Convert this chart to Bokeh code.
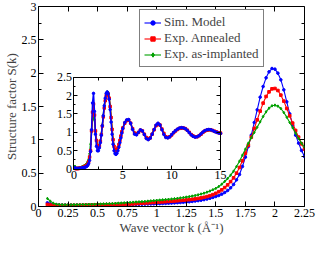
import numpy as np
from bokeh.plotting import figure
from bokeh.models import Range1d, LinearAxis, FixedTicker, Legend, LegendItem
from bokeh.embed import file_html
from bokeh.resources import INLINE

# ---------------- data ----------------
k_main = [round(0.075 + 0.025 * i, 3) for i in range(88)]

s_sim = [0.055, 0.04, 0.03, 0.025, 0.022, 0.02,
         0.02, 0.019, 0.019, 0.019, 0.02, 0.02, 0.02, 0.021, 0.021, 0.022, 0.022, 0.023,
         0.023, 0.024, 0.024, 0.025, 0.026, 0.026, 0.027, 0.028, 0.029, 0.03,
         0.031, 0.032, 0.033, 0.034, 0.035, 0.036, 0.038, 0.039, 0.04, 0.042,
         0.043, 0.045, 0.047, 0.049, 0.051, 0.054, 0.057, 0.06, 0.063, 0.067,
         0.071, 0.076, 0.082, 0.088, 0.095, 0.103, 0.112, 0.123, 0.136, 0.15,
         0.165, 0.185, 0.21, 0.24, 0.28, 0.33, 0.4, 0.48, 0.6, 0.74,
         0.9, 1.07, 1.26, 1.45, 1.64, 1.8, 1.93, 2.02, 2.07, 2.06,
         2.0, 1.9, 1.75, 1.57, 1.39, 1.22, 1.07, 0.95, 0.84, 0.75]

s_ann = [0.03, 0.022, 0.018, 0.016, 0.015, 0.015,
         0.015, 0.015, 0.016, 0.016, 0.017, 0.018, 0.019, 0.02, 0.021, 0.022, 0.023, 0.024,
         0.025, 0.026, 0.027, 0.028, 0.029, 0.031, 0.032, 0.033, 0.035, 0.036,
         0.038, 0.04, 0.043, 0.046, 0.049, 0.052, 0.055, 0.058, 0.061, 0.064,
         0.067, 0.07, 0.073, 0.076, 0.079, 0.082, 0.086, 0.09, 0.094, 0.098,
         0.103, 0.108, 0.114, 0.121, 0.129, 0.138, 0.149, 0.162, 0.178, 0.198,
         0.222, 0.25, 0.284, 0.325, 0.373, 0.43, 0.5, 0.585, 0.685, 0.8,
         0.92, 1.04, 1.17, 1.3, 1.43, 1.55, 1.65, 1.72, 1.765, 1.77,
         1.74, 1.67, 1.58, 1.47, 1.36, 1.25, 1.14, 1.04, 0.94, 0.86]

s_imp = [0.12, 0.08, 0.05, 0.035, 0.03, 0.028,
         0.027, 0.027, 0.027, 0.028, 0.028, 0.029, 0.03, 0.031, 0.032, 0.033, 0.034, 0.036,
         0.037, 0.039, 0.041, 0.043, 0.045, 0.047, 0.05, 0.052, 0.055, 0.058,
         0.061, 0.064, 0.067, 0.07, 0.073, 0.076, 0.08, 0.084, 0.088, 0.092,
         0.096, 0.1, 0.104, 0.108, 0.112, 0.117, 0.122, 0.128, 0.134, 0.141,
         0.148, 0.156, 0.165, 0.175, 0.187, 0.2, 0.215, 0.232, 0.251, 0.272,
         0.3, 0.335, 0.375, 0.42, 0.47, 0.53, 0.6, 0.68, 0.77, 0.86,
         0.95, 1.03, 1.11, 1.19, 1.27, 1.35, 1.42, 1.475, 1.51, 1.52,
         1.505, 1.47, 1.41, 1.34, 1.26, 1.18, 1.1, 1.02, 0.95, 0.89]

k_inset = [round(0.1 * i, 1) for i in range(1, 51)] + [round(5 + 0.2 * i, 1) for i in range(1, 51)]

si_sim = [0.04, 0.02, 0.02, 0.02, 0.02, 0.025, 0.028, 0.032, 0.036, 0.042,
          0.05, 0.06, 0.075, 0.1, 0.15, 0.24, 0.48, 1.07, 1.8, 2.06,
          1.57, 0.95, 0.62, 0.5, 0.5, 0.58, 0.72, 0.92, 1.18, 1.45,
          1.72, 1.93, 2.06, 2.1, 2.05, 1.9, 1.62, 1.28, 0.95, 0.68,
          0.5, 0.42, 0.4, 0.43, 0.5, 0.6, 0.72, 0.85, 0.98, 1.1,
          1.27, 1.34, 1.35, 1.25, 1.08, 0.95, 0.93, 1.0, 1.07, 1.04,
          0.94, 0.83, 0.8, 0.84, 0.95, 1.08, 1.2, 1.25, 1.2, 1.07,
          0.94, 0.86, 0.85, 0.88, 0.94, 1.0, 1.05, 1.09, 1.12, 1.13,
          1.12, 1.1, 1.05, 0.99, 0.93, 0.89, 0.87, 0.88, 0.91, 0.96,
          1.01, 1.05, 1.07, 1.08, 1.07, 1.05, 1.02, 1.0, 0.98, 0.97]

si_ann = [0.022, 0.015, 0.016, 0.018, 0.02, 0.026, 0.031, 0.038, 0.046, 0.055,
          0.07, 0.082, 0.1, 0.13, 0.2, 0.33, 0.5, 1.04, 1.55, 1.77,
          1.47, 1.04, 0.78, 0.64, 0.6, 0.64, 0.76, 0.94, 1.17, 1.42,
          1.66, 1.86, 2.0, 2.06, 2.04, 1.93, 1.7, 1.4, 1.08, 0.8,
          0.62, 0.53, 0.5, 0.52, 0.58, 0.67, 0.78, 0.9, 1.02, 1.12,
          1.25, 1.32, 1.33, 1.25, 1.1, 0.98, 0.95, 1.0, 1.06, 1.04,
          0.95, 0.86, 0.82, 0.85, 0.95, 1.07, 1.18, 1.23, 1.2, 1.09,
          0.97, 0.88, 0.86, 0.88, 0.93, 0.99, 1.04, 1.08, 1.11, 1.12,
          1.12, 1.1, 1.06, 1.0, 0.94, 0.9, 0.88, 0.88, 0.91, 0.95,
          1.0, 1.04, 1.06, 1.07, 1.07, 1.05, 1.03, 1.01, 0.99, 0.98]

si_imp = [0.08, 0.028, 0.028, 0.03, 0.033, 0.041, 0.05, 0.061, 0.073, 0.088,
          0.1, 0.117, 0.148, 0.2, 0.27, 0.42, 0.68, 1.03, 1.35, 1.52,
          1.34, 1.02, 0.8, 0.68, 0.63, 0.66, 0.77, 0.95, 1.2, 1.46,
          1.72, 1.92, 2.05, 2.1, 2.08, 1.96, 1.74, 1.43, 1.1, 0.82,
          0.63, 0.54, 0.51, 0.53, 0.59, 0.68, 0.79, 0.91, 1.03, 1.13,
          1.26, 1.33, 1.33, 1.24, 1.1, 0.99, 0.96, 1.0, 1.05, 1.03,
          0.95, 0.87, 0.83, 0.86, 0.96, 1.08, 1.18, 1.22, 1.19, 1.09,
          0.98, 0.89, 0.86, 0.88, 0.93, 0.99, 1.04, 1.08, 1.1, 1.11,
          1.11, 1.09, 1.05, 1.0, 0.95, 0.91, 0.89, 0.89, 0.91, 0.95,
          0.99, 1.03, 1.05, 1.06, 1.06, 1.05, 1.03, 1.01, 0.99, 0.98]

series_labels = ["Sim. Model", "Exp. Annealed", "Exp. as-implanted"]
series_colors = ["#0000ff", "#ff0000", "#00a000"]
series_markers = ["circle", "square", "diamond"]

x_ticks = [0, 0.25, 0.5, 0.75, 1, 1.25, 1.5, 1.75, 2, 2.25]
x_tick_labels = ["0", "0.25", "0.5", "0.75", "1", "1.25", "1.5", "1.75", "2", "2.25"]
y_ticks = [0, 0.5, 1, 1.5, 2, 2.5, 3]
y_tick_labels = ["0", "0.5", "1", "1.5", "2", "2.5", "3"]
y_minor = [0.25, 0.75, 1.25, 1.75, 2.25, 2.75]

ix_ticks = [0, 5, 10, 15]
ix_tick_labels = ["0", "5", "10", "15"]
ix_minor = [2.5, 7.5, 12.5]
iy_ticks = [0, 0.5, 1, 1.5, 2, 2.5]
iy_tick_labels = ["0", "0.5", "1", "1.5", "2", "2.5"]
iy_minor = [0.25, 0.75, 1.25, 1.75, 2.25]

# ---------------- layout / style ----------------
FONT = "Liberation Serif, serif"
TICK_FS = "12px"

p = figure(width=316, height=237, x_range=Range1d(0, 2.25), y_range=Range1d(0, 3),
           output_backend="svg", toolbar_location=None,
           min_border_left=0, min_border_right=12, min_border_top=6, min_border_bottom=0,
           x_axis_label="Wave vector k (Å⁻¹)", y_axis_label="Structure factor S(k)")
p.xgrid.visible = False
p.ygrid.visible = False
p.outline_line_color = "black"
p.outline_line_width = 1


def style_axis(ax, ticks, minor, labels=None, tin=5, tmin=3):
    ax.ticker = FixedTicker(ticks=ticks, minor_ticks=minor)
    ax.major_tick_in = tin
    ax.major_tick_out = 0
    ax.minor_tick_in = tmin
    ax.minor_tick_out = 0
    ax.axis_line_color = "black"
    ax.major_tick_line_color = "black"
    ax.minor_tick_line_color = "black"
    ax.major_label_standoff = 2
    ax.major_label_text_font = FONT
    ax.major_label_text_font_size = TICK_FS
    ax.major_label_text_color = "black"
    if labels is not None:
        ax.major_label_overrides = dict(zip(ticks, labels))
    else:
        ax.major_label_text_color = None


style_axis(p.xaxis[0], x_ticks, [], x_tick_labels)
style_axis(p.yaxis[0], y_ticks, y_minor, y_tick_labels)
for ax in (p.xaxis[0], p.yaxis[0]):
    ax.axis_label_text_font = FONT
    ax.axis_label_text_font_size = "13px"
    ax.axis_label_text_font_style = "normal"
    ax.axis_label_standoff = 0

top = LinearAxis(fixed_location=3)
style_axis(top, x_ticks, [])
p.add_layout(top, "above")
right = LinearAxis(fixed_location=2.25)
style_axis(right, y_ticks, y_minor)
p.add_layout(right, "right")

# ---------------- main curves ----------------
main_series = [s_sim, s_ann, s_imp]
legend_items = []
for ys, lab, col, mk in zip(main_series, series_labels, series_colors, series_markers):
    ln = p.line(k_main, ys, line_color=col, line_width=1.1)
    sc = p.scatter(k_main, ys, marker=mk, size=2.6, line_color=col, fill_color=col)
    legend_items.append(LegendItem(label=lab, renderers=[ln, sc]))

# ---------------- inset (own ranges mapped to a box of the frame) ----------------
box_x = (0.30, 1.54)   # where the inset frame sits, in main data units
box_y = (0.56, 1.94)
ix_range = (0, 15)
iy_range = (0, 2.5)


def mapped(box, inner, full):
    scale = (inner[1] - inner[0]) / (box[1] - box[0])
    return Range1d(inner[0] + (full[0] - box[0]) * scale, inner[0] + (full[1] - box[0]) * scale)


p.extra_x_ranges = {"ix": mapped(box_x, ix_range, (0, 2.25))}
p.extra_y_ranges = {"iy": mapped(box_y, iy_range, (0, 3))}

inset_series = [si_sim, si_ann, si_imp]
for idx in (2, 1, 0):
    ys, col, mk = inset_series[idx], series_colors[idx], series_markers[idx]
    p.line(k_inset, ys, line_color=col, line_width=1.5, x_range_name="ix", y_range_name="iy")
    p.scatter(k_inset, ys, marker=mk, size=2.5, line_color=col, fill_color=col,
              x_range_name="ix", y_range_name="iy")

il = LinearAxis(x_range_name="ix", y_range_name="iy", fixed_location=0, bounds=iy_range)
style_axis(il, iy_ticks, iy_minor, iy_tick_labels, tin=4, tmin=2)
p.add_layout(il, "left")
ib = LinearAxis(x_range_name="ix", y_range_name="iy", fixed_location=0, bounds=ix_range)
style_axis(ib, ix_ticks, ix_minor, ix_tick_labels, tin=4, tmin=3)
p.add_layout(ib, "below")
it = LinearAxis(x_range_name="ix", y_range_name="iy", fixed_location=2.5, bounds=ix_range)
style_axis(it, ix_ticks, ix_minor, None, tin=4, tmin=3)
p.add_layout(it, "above")
ir = LinearAxis(x_range_name="ix", y_range_name="iy", fixed_location=15, bounds=iy_range)
style_axis(ir, iy_ticks, iy_minor, None, tin=4, tmin=2)
p.add_layout(ir, "right")

# ---------------- legend ----------------
legend = Legend(items=legend_items, location=(101, 139))
legend.label_text_font = FONT
legend.label_text_font_size = "13px"
legend.glyph_width = 17
legend.glyph_height = 11
legend.label_height = 12
legend.label_standoff = 3
legend.spacing = -3
legend.padding = 4
legend.margin = 0
legend.border_line_color = "black"
legend.border_line_width = 1
legend.background_fill_color = "white"
legend.background_fill_alpha = 1
p.add_layout(legend)

open("out.html", "w").write(file_html(p, INLINE))
